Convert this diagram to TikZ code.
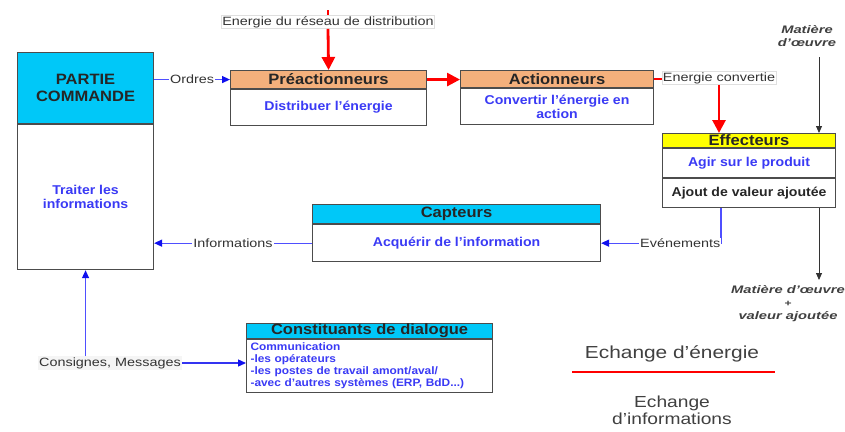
\documentclass[tikz,border=0pt]{standalone}
\usepackage{fontspec}
\setmainfont{Liberation Sans}[FakeStretch=1.1]
\newfontfamily\lblfont{Liberation Sans}[FakeStretch=1.2]
\newfontfamily\itfont{Liberation Sans}[FakeStretch=1.35]
\usetikzlibrary{arrows.meta,calc}
\definecolor{hdrorange}{HTML}{F4B07C}
\definecolor{hdrcyan}{HTML}{00C8F8}
\definecolor{hdryellow}{HTML}{FFFF00}
\definecolor{txtblue}{HTML}{3A3AF5}
\definecolor{lineblue}{HTML}{4F4FFF}
\definecolor{arrblue}{HTML}{1010EE}
\definecolor{lblgray}{HTML}{333333}
\begin{document}
\begin{tikzpicture}[x=1pt,y=-1pt,
  box/.style={draw=black!70, line width=1.1pt, inner sep=1pt, anchor=north west},
  hdr/.style={box, inner sep=0pt, font=\fontsize{15}{17}\selectfont\bfseries, text=black!85, align=center},
  bodyb/.style={box, fill=white, font=\fontsize{12.8}{14}\selectfont\bfseries, text=txtblue, align=center},
  lbl/.style={font=\lblfont\fontsize{12}{14}\selectfont, text=lblgray, fill=white, inner sep=1pt},
  info/.style={draw=lineblue, line width=1.3pt},
  infoarr/.style={info, -{Triangle[length=8pt,width=7pt,color=arrblue]}},
  energy/.style={draw=red, line width=2.8pt},
  energyarr/.style={energy, -{Triangle[length=13pt,width=13pt]}},
  matarr/.style={draw=black!80, line width=0.8pt, -{Triangle[length=7pt,width=6pt]}},
  matlbl/.style={font=\itfont\fontsize{10.9}{13}\selectfont\bfseries\itshape, text=black!75, align=center},
  leg/.style={font=\lblfont\fontsize{17.4}{20}\selectfont, text=black!75, align=center},
]
\useasboundingbox (0,0) rectangle (845,431);

% Partie commande
\node[hdr, fill=hdrcyan, minimum width=136pt, minimum height=71pt] (pcH) at (17,52) {PARTIE\\COMMANDE};
\node[bodyb, minimum width=136pt, minimum height=145pt] (pcB) at (pcH.south west) {Traiter les\\informations};

% Preactionneurs
\node[hdr, fill=hdrorange, minimum width=196pt, minimum height=18pt] (preH) at (230,70) {Préactionneurs};
\node[bodyb, minimum width=196pt, minimum height=36pt] (preB) at (preH.south west) {Distribuer l’énergie};

% Actionneurs
\node[hdr, fill=hdrorange, minimum width=193pt, minimum height=17pt] (actH) at (460,70) {Actionneurs};
\node[bodyb, minimum width=193pt, minimum height=36pt] (actB) at (actH.south west) {Convertir l’énergie en\\action};

% Effecteurs
\node[hdr, fill=hdryellow, minimum width=173pt, minimum height=14pt] (effH) at (662,133) {Effecteurs};
\node[bodyb, minimum width=173pt, minimum height=29pt] (effB) at (effH.south west) {Agir sur le produit};
\node[bodyb, text=black!85, minimum width=173pt, minimum height=29pt] (effC) at (effB.south west) {Ajout de valeur ajoutée};

% Capteurs
\node[hdr, fill=hdrcyan, minimum width=288pt, minimum height=19pt] (capH) at (312,204) {Capteurs};
\node[bodyb, minimum width=288pt, minimum height=37pt] (capB) at (capH.south west) {Acquérir de l’information};

% Constituants de dialogue
\node[hdr, fill=hdrcyan, minimum width=246pt, minimum height=15pt] (dlgH) at (246,323) {Constituants de dialogue};
\node[bodyb, align=left, inner xsep=4pt, text width=238pt, minimum height=53pt,
      font=\fontsize{10.8}{12}\selectfont\bfseries] (dlgB) at (dlgH.south west)
  {Communication\\-les opérateurs\\-les postes de travail amont/aval/\\-avec d’autres systèmes (ERP, BdD...)};

% Energie du reseau
\coordinate (enTop) at (328,10);
\node[lbl, draw=gray!25, line width=0.4pt] (ener) at (328,22) {Energie du réseau de distribution};
\draw[energy] (enTop) -- (ener.north);
\draw[energyarr] (ener.south) -- (preH.north);

% Ordres
\draw[infoarr] (preH.west -| pcH.east) -- node[lbl]{Ordres} (preH.west);

% Pre -> Act
\draw[energyarr] (preH.east) -- (preH.east -| actH.west);

% Energie convertie
\node[lbl, draw=gray!25, line width=0.4pt] (conv) at (719,78) {Energie convertie};
\draw[energy] (actH.east) -- (actH.east -| conv.west);
\draw[energyarr] (conv.south) -- (conv.south |- effH.north);

% Matiere d'oeuvre
\node[matlbl] (matin) at (807,36) {Matière\\d’œuvre};
\coordinate (matArr) at (819,57);
\draw[matarr] (matArr) -- (matArr |- effH.north);
\node[matlbl] (matout) at (788,304) {Matière d’œuvre\\{\fontsize{9}{9}\selectfont +}\\valeur ajoutée};
\draw[matarr] (effC.south -| matArr) -- (matArr |- 0,280);

% Evenements
\coordinate (evx) at (721,0);
\draw[infoarr] (evx |- effC.south) |- node[lbl, pos=0.67]{Evénements} (capB.east);

% Informations
\draw[infoarr] (capB.west) -- node[lbl]{Informations} (capB.west -| pcB.east);

% Consignes
\node[lbl, fill=gray!8] (cons) at (110,363) {Consignes, Messages};
\draw[infoarr] (cons.north -| pcB.south) -- (pcB.south);
\draw[infoarr, draw=arrblue!85] (cons.east) -- (cons.east -| dlgB.west);

% Legende
\node[leg] (leg1) at (672,354) {Echange d’énergie};
\coordinate (legA) at (572,372);
\coordinate (legB) at (775,372);
\draw[draw=red, line width=2.5pt] (legA) -- (legB);
\node[leg, font=\lblfont\fontsize{16}{17}\selectfont] (leg2) at (672,410) {Echange\\d’informations};
\end{tikzpicture}
\end{document}
